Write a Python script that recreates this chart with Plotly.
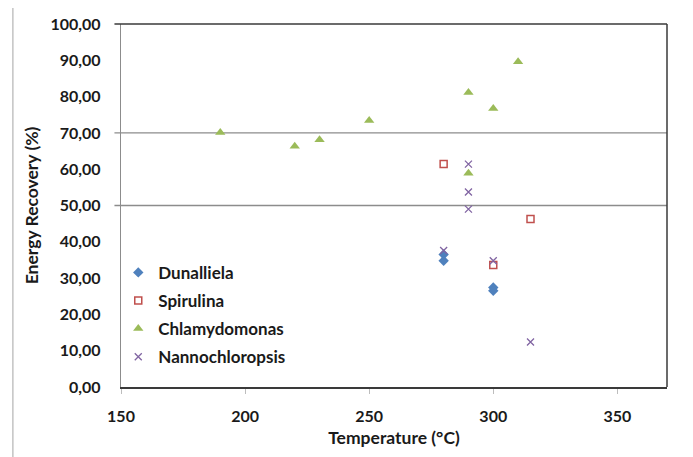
import plotly.graph_objects as go

# ---- data ----
dun_x = [280, 280, 300, 300]
dun_y = [36.5, 34.8, 27.4, 26.5]

spi_x = [280, 300, 315]
spi_y = [61.4, 33.6, 46.3]

chl_x = [190, 220, 230, 250, 290, 290, 300, 310]
chl_y = [70.1, 66.3, 68.1, 73.4, 81.1, 58.9, 76.7, 89.6]

nan_x = [290, 290, 290, 280, 300, 315]
nan_y = [61.4, 53.7, 49.0, 37.6, 34.8, 12.4]

x_ticks = [150, 200, 250, 300, 350]
y_ticks = [0, 10, 20, 30, 40, 50, 60, 70, 80, 90, 100]
grid_vals = [50, 70]

FONT = "Lato"
TXT = "#1a1a1a"

fig = go.Figure()
fig.add_trace(go.Scatter(x=dun_x, y=dun_y, mode="markers", name="Dunalliela",
                         legendgroup="a",
                         marker=dict(symbol="diamond", size=8, color="#4F81BD")))
fig.add_trace(go.Scatter(x=spi_x, y=spi_y, mode="markers", name="Spirulina",
                         legendgroup="b",
                         marker=dict(symbol="square-open", size=7, color="#C0504D",
                                     line=dict(width=1.5, color="#C0504D"))))
fig.add_trace(go.Scatter(x=chl_x, y=chl_y, mode="markers", name="Chlamydomonas",
                         legendgroup="c",
                         marker=dict(symbol="triangle-up", size=9, color="#9BBB59")))
fig.add_trace(go.Scatter(x=nan_x, y=nan_y, mode="markers", name="Nannochloropsis",
                         legendgroup="d",
                         marker=dict(symbol="x-thin", size=7, color="#8064A2",
                                     line=dict(width=1.3, color="#8064A2"))))

shapes = []
for g in grid_vals:
    shapes.append(dict(type="line", xref="paper", yref="y", x0=-0.012, x1=1,
                       y0=g, y1=g, line=dict(color="#8c8c8c", width=1.3), layer="below"))
# top frame extension and right frame line
shapes.append(dict(type="line", xref="paper", yref="paper", x0=-0.012, x1=1,
                   y0=1, y1=1, line=dict(color="#3a3a3a", width=1.5)))
shapes.append(dict(type="line", xref="paper", yref="paper", x0=1, x1=1,
                   y0=0, y1=1, line=dict(color="#3a3a3a", width=1.5)))
# page border line on the far left
shapes.append(dict(type="line", xref="paper", yref="paper", x0=-0.198, x1=-0.198,
                   y0=1.053, y1=-0.25, line=dict(color="#b4b4b4", width=1.2)))

fig.update_layout(
    width=685, height=449,
    margin=dict(l=113, r=26, t=16, b=70),
    paper_bgcolor="white", plot_bgcolor="white",
    separators=",.",
    font=dict(family=FONT, color=TXT),
    shapes=shapes,
    showlegend=True,
    legend=dict(x=-0.005, y=0.364, xanchor="left", yanchor="top",
                bgcolor="rgba(0,0,0,0)", traceorder="grouped", tracegroupgap=3,
                font=dict(family=FONT, size=17, color=TXT, weight="bold")),
    xaxis=dict(range=[150, 370], tickvals=x_ticks, showgrid=False, zeroline=False,
               automargin=False,
               showline=True, linecolor="#3a3a3a", linewidth=1.5,
               ticks="outside", ticklen=5, tickcolor="#bdbdbd", tickwidth=1,
               ticklabelstandoff=9,
               tickfont=dict(family=FONT, size=16, weight="bold", color=TXT),
               title=dict(text="Temperature (°C)", standoff=8,
                          font=dict(family=FONT, size=17.5, weight="bold", color=TXT))),
    yaxis=dict(range=[0, 100], tickvals=y_ticks, tickformat=".2f", showgrid=False,
               automargin=False,
               zeroline=False, showline=True, linecolor="#8c8c8c", linewidth=1.3,
               ticks="", ticklabelstandoff=16,
               tickfont=dict(family=FONT, size=16, weight="bold", color=TXT),
               title=dict(text="Energy Recovery (%)", standoff=7,
                          font=dict(family=FONT, size=17.5, weight="bold", color=TXT))),
)

fig.write_html("out.html")
